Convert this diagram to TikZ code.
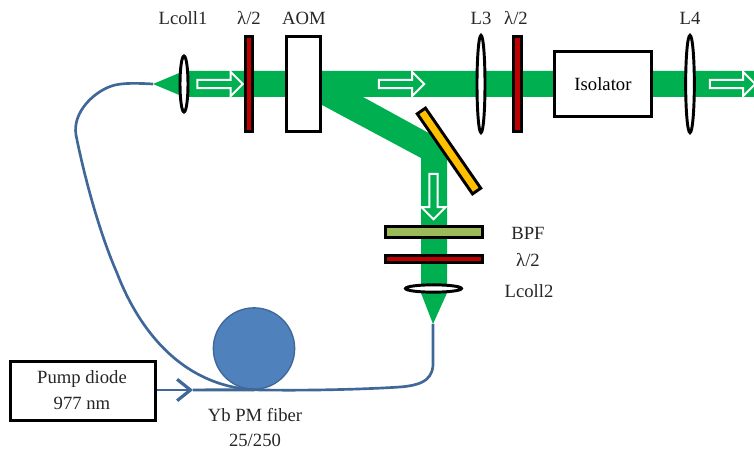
\documentclass[tikz,border=0pt]{standalone}
\usepackage{fontspec}
\setmainfont{Liberation Serif}
\usetikzlibrary{arrows.meta,shapes.geometric,shapes.arrows}
\definecolor{beamgreen}{HTML}{00B050}
\definecolor{platered}{HTML}{C00000}
\definecolor{mirrorgold}{HTML}{FFC000}
\definecolor{filterolive}{HTML}{9BBB59}
\definecolor{coilblue}{HTML}{4F81BD}
\definecolor{fiberblue}{HTML}{3F6797}
\tikzset{
  part/.style={draw=black,line width=2.2pt,inner sep=0pt},
  lens/.style={part,ellipse,fill=white},
  plate/.style={part,fill=platered},
  boxpart/.style={part,fill=white,font=\fontsize{14}{16}\selectfont},
  label/.style={font=\fontsize{14}{16}\selectfont,text=black!85,inner sep=0pt,align=center},
  beamarrow/.style={single arrow,draw=white,fill=beamgreen,line width=1.5pt,inner sep=2.4pt,
    minimum width=18pt,minimum height=34pt,single arrow head extend=6pt,single arrow head indent=0pt},
  fiber/.style={draw=fiberblue,line width=2pt}
}
\begin{document}
\begin{tikzpicture}[x=0.75pt,y=-0.75pt]
            \useasboundingbox (0,0) rectangle (754,449);

            % beams
            \fill[beamgreen] (153,84) -- (184,71) -- (754,71) -- (754,97) -- (184,97) -- cycle;
            \fill[beamgreen] (322,105) -- (421,158) -- (421,293) -- (447,293) -- (447,147) -- (436,137) -- (363,97) -- (322,97) -- cycle;
            \fill[beamgreen] (421,293) -- (447,293) -- (433,324) -- cycle;

            \node[beamarrow] (arrowA) at (218,84) {};
            \node[beamarrow] (arrowB) at (399.5,84) {};
            \node[beamarrow] (arrowC) at (730.5,84) {};
            \node[beamarrow,rotate=-90] (arrowD) at (433.5,194.5) {};

            % optics
            \node[lens,minimum width=6pt,minimum height=42pt] (Lcolla) at (184,84) {};
            \node[plate,minimum width=5.25pt,minimum height=71pt] (platea) at (249,84) {};
            \node[boxpart,minimum width=26pt,minimum height=71pt] (AOM) at (303.5,84) {};
            \node[lens,minimum width=6pt,minimum height=73pt] (Lthree) at (481,84) {};
            \node[plate,minimum width=5.5pt,minimum height=71pt] (plateb) at (517.5,84) {};
            \node[boxpart,minimum width=72.75pt,minimum height=49pt] (isolator) at (603,84) {Isolator};
            \node[lens,minimum width=6.5pt,minimum height=73pt] (Lfour) at (690,84) {};
            \node[part,fill=mirrorgold,minimum width=73pt,minimum height=7.5pt,rotate=-55.4] (mirror) at (449,151) {};
            \node[part,fill=filterolive,minimum width=72.75pt,minimum height=8.25pt] (BPF) at (434,232) {};
            \node[plate,minimum width=72.75pt,minimum height=5.25pt] (platec) at (434,259) {};
            \node[lens,minimum width=42pt,minimum height=5.5pt] (Lcollb) at (433.5,288.5) {};

            % fiber
            \node[circle,draw=fiberblue,line width=1pt,fill=coilblue,minimum size=61pt,inner sep=0pt] (coil) at (254,348.5) {};
            \node[part,minimum width=108.75pt,minimum height=44pt] (pump) at (83,391) {};
            \coordinate (tipa) at (153,84);
            \coordinate (tipb) at (433,324);
            \coordinate (chevron) at (193,390);

            \draw[fiber] (tipa) .. controls (135,83) and (125,83) .. (115,85) .. controls (95,90) and (72,112) .. (76,135) .. controls (84,175) and (99,232) .. (117,273) .. controls (135,320) and (175,385) .. (coil.south);
            \draw[fiber] (coil.south) .. controls (310,391) and (370,389) .. (400,387) .. controls (425,385) and (434,378) .. (433,360) -- (tipb);
            \draw[fiber,line width=2.2pt,-{Straight Barb[length=10pt,width=16pt,line width=2.4pt]}] (pump.east |- chevron) -- (chevron);
            \draw[fiber,line width=2.2pt] (chevron) -- (coil.south);

            % labels
            \node[label] (textA) at (183,18) {Lcoll1};
            \node[label] (textB) at (249,18) {λ/2};
            \node[label] (textC) at (304,18) {AOM};
            \node[label] (textD) at (481,18) {L3};
            \node[label] (textE) at (516,18) {λ/2};
            \node[label] (textF) at (690,18) {L4};
            \node[label] (textG) at (528,233) {BPF};
            \node[label] (textH) at (528,260) {λ/2};
            \node[label] (textI) at (529,291) {Lcoll2};
            \node[label] (textJ) at (82,379) {Pump diode};
            \node[label] (textK) at (82,403) {977 nm};
            \node[label] (textL) at (255,415) {Yb PM fiber};
            \node[label] (textM) at (255,440) {25/250};
        \end{tikzpicture}
\end{document}
